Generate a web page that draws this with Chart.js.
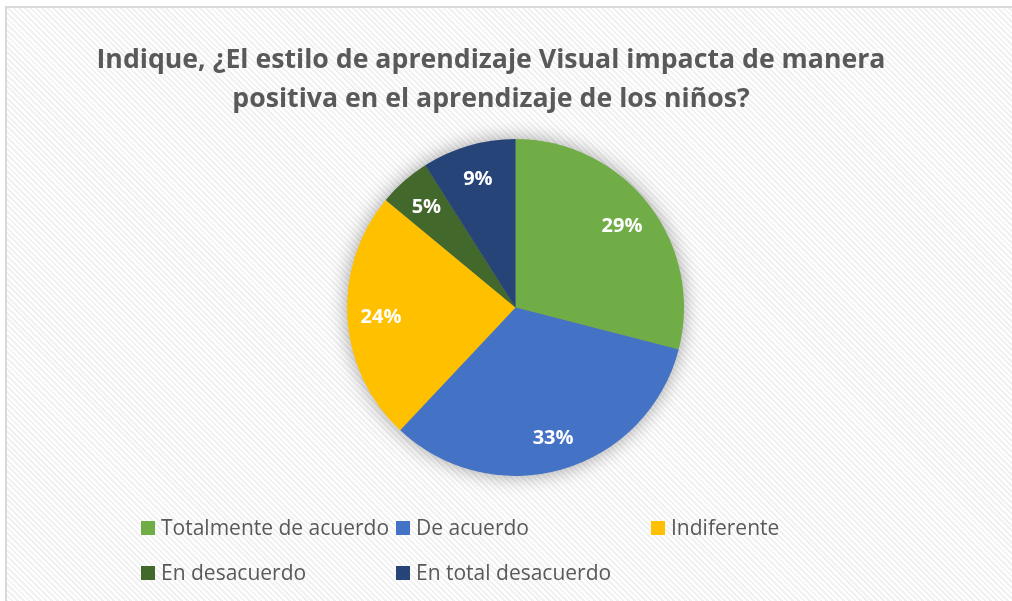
<!DOCTYPE html>
<html>
<head>
<meta charset="utf-8">
<script src="https://cdn.jsdelivr.net/npm/chart.js@4/dist/chart.umd.min.js"></script>
<style>
  html, body { margin: 0; padding: 0; background: #fff; }
  #wrap { position: relative; width: 1012px; height: 601px; overflow: hidden; }
  #bg {
    position: absolute; left: 5px; top: 6px; right: -10px; bottom: -10px;
    border-left: 2px solid #d9d9d9; border-top: 2px solid #d9d9d9;
    background: repeating-linear-gradient(45deg, #ffffff 0px, #ffffff 2px, #f1f1f1 2px, #f1f1f1 4px);
  }
  #c { position: absolute; left: 0; top: 0; }
</style>
</head>
<body>
<div id="wrap">
  <div id="bg"></div>
  <canvas id="c" width="1012" height="601"></canvas>
</div>
<script>
const titleLines = [
  "Indique, ¿El estilo de aprendizaje Visual impacta de manera",
  "positiva en el aprendizaje de los niños?"
];
const categories = [
  "Totalmente de acuerdo",
  "De acuerdo",
  "Indiferente",
  "En desacuerdo",
  "En total desacuerdo"
];
const percents = [29, 33, 24, 5, 9];
const sliceColors = ["#70ad47", "#4472c4", "#ffc000", "#43682b", "#264478"];

const FONT = "'Open Sans', 'Noto Sans', sans-serif";
const textGray = "#595959";

// soft shadow behind the pie
const pieShadow = {
  id: "pieShadow",
  beforeDatasetsDraw(chart) {
    const arc = chart.getDatasetMeta(0).data[0];
    if (!arc) return;
    const { x, y, outerRadius } = arc.getProps(["x", "y", "outerRadius"], true);
    const ctx = chart.ctx;
    ctx.save();
    ctx.shadowColor = "rgba(0,0,0,0.4)";
    ctx.shadowBlur = 20;
    ctx.fillStyle = "#888";
    ctx.beginPath();
    ctx.arc(x, y, outerRadius - 1, 0, Math.PI * 2);
    ctx.fill();
    ctx.restore();
  }
};

// percent labels inside the slices
const sliceLabels = {
  id: "sliceLabels",
  afterDatasetsDraw(chart) {
    const ctx = chart.ctx;
    const meta = chart.getDatasetMeta(0);
    ctx.save();
    ctx.fillStyle = "#fff";
    ctx.font = "bold 20px " + FONT;
    ctx.textAlign = "center";
    ctx.textBaseline = "middle";
    meta.data.forEach((arc, i) => {
      const p = arc.getProps(["x", "y", "startAngle", "endAngle", "outerRadius"], true);
      const mid = (p.startAngle + p.endAngle) / 2;
      const r = p.outerRadius * 0.8;
      ctx.fillText(chart.data.datasets[0].data[i] + "%", p.x + Math.cos(mid) * r, p.y + Math.sin(mid) * r + 1);
    });
    ctx.restore();
  }
};

// title and column legend like the office chart
const chartText = {
  id: "chartText",
  afterDraw(chart) {
    const ctx = chart.ctx;
    ctx.save();
    ctx.fillStyle = textGray;
    ctx.font = "bold 26.7px " + FONT;
    ctx.textAlign = "center";
    ctx.textBaseline = "alphabetic";
    ctx.fillText(titleLines[0], 491, 68);
    ctx.fillText(titleLines[1], 491, 107);

    const colX = [141, 396, 651];
    const rowY = [528, 573];
    const ds = chart.data.datasets[0];
    ctx.font = "21px " + FONT;
    ctx.textAlign = "left";
    ctx.textBaseline = "middle";
    chart.data.labels.forEach((lab, i) => {
      const x = colX[i % 3], y = rowY[Math.floor(i / 3)];
      ctx.fillStyle = ds.backgroundColor[i];
      ctx.fillRect(x, y - 7, 14, 14);
      ctx.fillStyle = textGray;
      ctx.fillText(lab, x + 20, y + 1);
    });
    ctx.restore();
  }
};

new Chart(document.getElementById("c").getContext("2d"), {
  type: "pie",
  data: {
    labels: categories,
    datasets: [{
      data: percents,
      backgroundColor: sliceColors,
      borderWidth: 0
    }]
  },
  options: {
    responsive: false,
    animation: false,
    layout: { padding: { left: 347, right: 328, top: 139, bottom: 125 } },
    plugins: {
      legend: { display: false },
      title: { display: false },
      tooltip: { enabled: false }
    }
  },
  plugins: [pieShadow, sliceLabels, chartText]
});
</script>
</body>
</html>
